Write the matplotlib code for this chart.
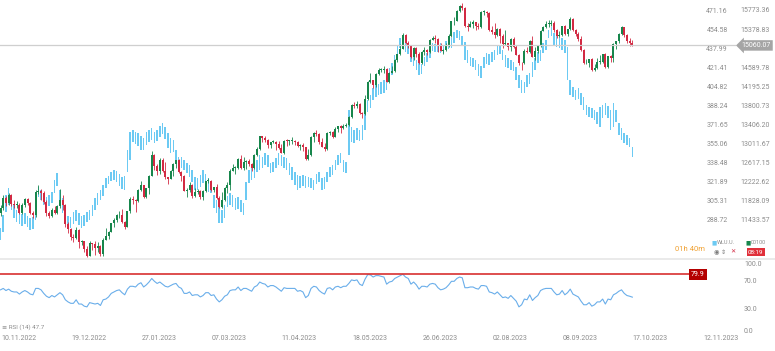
import matplotlib
matplotlib.use("Agg")
import matplotlib.pyplot as plt
import matplotlib.transforms as mtransforms
from matplotlib.lines import Line2D
import numpy as np

# index candles (scale on the far right: 15773.36 ...)
ndx_open = [
    11600, 11700, 11900, 11800, 11960, 11780, 11760, 11760, 11600, 11750,
    11870, 11790, 11600, 11540, 12030, 12050, 12010, 11820, 11580, 11520,
    11660, 11590, 11730, 11860, 11760, 11370, 11250, 11090, 11080, 11240,
    10990, 11000, 10840, 10700, 10960, 10940, 10860, 10910, 10740, 11040,
    11110, 11200, 11380, 11450, 11540, 11550, 11410, 11300, 11630, 11890,
    11860, 11840, 12060, 12170, 11920, 12100, 12360, 12800, 12570, 12450,
    12690, 12460, 12330, 12300, 12460, 12600, 12680, 12440, 12360, 12050,
    12060, 12160, 11950, 12020, 12040, 11930, 12040, 12250, 12250, 12070,
    12120, 11900, 11720, 11850, 12100, 12180, 12470, 12520, 12520, 12700,
    12520, 12640, 12670, 12600, 12530, 12790, 12910, 13180, 13150, 13110,
    12990, 13060, 13070, 13020, 12930, 12840, 13090, 13080, 13080, 13080,
    13070, 12980, 13000, 12960, 12700, 12800, 13160, 13250, 13230, 13060,
    12960, 12920, 13240, 13270, 13170, 13330, 13390, 13340, 13400, 13410,
    13570, 13820, 13810, 13850, 13670, 13630, 13960, 14300, 14340, 14250,
    14460, 14550, 14560, 14580, 14310, 14490, 14540, 14760, 14880, 14990,
    15280, 15120, 15040, 14820, 15000, 14890, 14690, 14930, 14960, 14920,
    15180, 15210, 15200, 15040, 14950, 14970, 15050, 15260, 15560, 15570,
    15780, 15870, 15840, 15470, 15450, 15510, 15540, 15470, 15450, 15750,
    15760, 15730, 15380, 15340, 15270, 15410, 15260, 15080, 15110, 15020,
    15200, 15030, 14870, 14700, 14690, 14950, 14930, 15160, 14830, 14940,
    15040, 15350, 15440, 15500, 15500, 15530, 15390, 15250, 15280, 15460,
    15290, 15400, 15610, 15380, 15300, 15190, 14960, 14690, 14700, 14770,
    14550, 14590, 14720, 14720, 14880, 14620, 14840, 14810, 15080, 15150,
    15300, 15440, 15280, 15150, 15120,
]
ndx_high = [
    11760, 11960, 11950, 12000, 11990, 11850, 11830, 11790, 11790, 11910,
    11900, 11810, 11640, 12060, 12160, 12080, 12040, 11850, 11630, 11700,
    11740, 11750, 12080, 11970, 11780, 11410, 11280, 11150, 11290, 11250,
    11040, 11010, 10900, 11000, 10970, 11020, 10980, 10920, 11070, 11270,
    11220, 11390, 11480, 11560, 11640, 11680, 11420, 11640, 11920, 11950,
    11870, 12080, 12250, 12180, 12110, 12380, 12880, 12820, 12610, 12730,
    12720, 12640, 12340, 12480, 12620, 12690, 12700, 12470, 12380, 12110,
    12240, 12190, 12110, 12090, 12060, 12060, 12260, 12320, 12270, 12130,
    12190, 11950, 12020, 12130, 12230, 12500, 12610, 12560, 12720, 12800,
    12750, 12680, 12700, 12620, 12810, 12960, 13190, 13180, 13190, 13130,
    13070, 13100, 13090, 13090, 13010, 13100, 13120, 13110, 13160, 13100,
    13090, 13020, 13030, 12960, 12920, 13180, 13260, 13300, 13250, 13150,
    13030, 13260, 13290, 13290, 13370, 13400, 13410, 13430, 13460, 13590,
    13840, 13880, 13900, 13860, 13690, 14040, 14320, 14480, 14340, 14480,
    14590, 14600, 14640, 14600, 14510, 14630, 14770, 14890, 15080, 15310,
    15300, 15150, 15070, 15020, 15030, 14920, 14950, 15020, 14980, 15200,
    15260, 15270, 15220, 15110, 14990, 15110, 15290, 15570, 15640, 15800,
    15900, 15930, 15860, 15520, 15570, 15580, 15540, 15520, 15770, 15800,
    15770, 15760, 15460, 15530, 15420, 15430, 15290, 15380, 15120, 15210,
    15230, 15060, 14890, 14720, 14980, 15020, 15180, 15260, 15020, 15060,
    15370, 15470, 15560, 15590, 15590, 15560, 15410, 15360, 15470, 15480,
    15410, 15640, 15620, 15400, 15330, 15250, 14980, 14780, 14780, 14790,
    14670, 14790, 14860, 14890, 14900, 14850, 14860, 15110, 15160, 15310,
    15460, 15450, 15300, 15210, 15170,
]
ndx_low = [
    11520, 11660, 11740, 11760, 11730, 11700, 11690, 11560, 11570, 11720,
    11760, 11570, 11490, 11510, 11990, 11860, 11770, 11530, 11480, 11500,
    11570, 11560, 11700, 11660, 11310, 11170, 11040, 10990, 11050, 10860,
    10920, 10790, 10680, 10690, 10820, 10710, 10790, 10700, 10700, 11030,
    11050, 11190, 11290, 11400, 11490, 11390, 11260, 11290, 11600, 11780,
    11610, 11820, 12040, 11910, 11900, 11980, 12360, 12490, 12380, 12400,
    12440, 12300, 12190, 12290, 12360, 12520, 12420, 12260, 12040, 11930,
    12030, 11900, 11920, 11990, 11890, 11850, 12020, 12220, 12050, 12030,
    11880, 11690, 11700, 11830, 12010, 12070, 12460, 12400, 12500, 12510,
    12490, 12510, 12570, 12470, 12510, 12780, 12890, 13050, 13070, 12940,
    12930, 13030, 12900, 12910, 12830, 12820, 12980, 12990, 13020, 12990,
    12950, 12900, 12870, 12690, 12680, 12780, 13070, 13190, 13010, 12950,
    12880, 12900, 13200, 13150, 13170, 13270, 13250, 13320, 13380, 13390,
    13560, 13760, 13770, 13650, 13560, 13610, 13940, 14280, 14180, 14200,
    14440, 14500, 14490, 14300, 14290, 14480, 14520, 14720, 14870, 14980,
    15080, 15000, 14790, 14760, 14820, 14680, 14670, 14860, 14860, 14900,
    15170, 15110, 14920, 14940, 14880, 14940, 15030, 15240, 15480, 15560,
    15760, 15790, 15440, 15360, 15440, 15420, 15390, 15410, 15430, 15700,
    15640, 15360, 15290, 15220, 15250, 15120, 15010, 15070, 14960, 14940,
    15010, 14860, 14660, 14560, 14670, 14900, 14900, 14820, 14760, 14910,
    15030, 15350, 15420, 15440, 15470, 15330, 15220, 15230, 15260, 15270,
    15260, 15390, 15360, 15250, 15160, 14950, 14680, 14680, 14610, 14530,
    14530, 14570, 14680, 14700, 14600, 14590, 14720, 14710, 14980, 15120,
    15280, 15240, 15110, 15050, 15040,
]
ndx_close = [
    11700, 11900, 11800, 11960, 11780, 11760, 11760, 11600, 11750, 11870,
    11790, 11600, 11540, 12030, 12050, 12010, 11820, 11580, 11520, 11660,
    11590, 11730, 11860, 11760, 11370, 11250, 11090, 11080, 11240, 10990,
    11000, 10840, 10700, 10960, 10940, 10860, 10910, 10740, 11040, 11110,
    11200, 11380, 11450, 11540, 11550, 11410, 11300, 11630, 11890, 11860,
    11840, 12060, 12170, 11920, 12100, 12360, 12800, 12570, 12450, 12690,
    12460, 12330, 12300, 12460, 12600, 12680, 12440, 12360, 12050, 12060,
    12160, 11950, 12020, 12040, 11930, 12040, 12250, 12250, 12070, 12120,
    11900, 11720, 11850, 12100, 12180, 12470, 12520, 12520, 12700, 12520,
    12640, 12670, 12600, 12530, 12790, 12910, 13180, 13150, 13110, 12990,
    13060, 13070, 13020, 12930, 12840, 13090, 13080, 13080, 13080, 13070,
    12980, 13000, 12960, 12700, 12800, 13160, 13250, 13230, 13060, 12960,
    12920, 13240, 13270, 13170, 13330, 13390, 13340, 13400, 13410, 13570,
    13820, 13810, 13850, 13670, 13630, 13960, 14300, 14340, 14250, 14460,
    14550, 14560, 14580, 14310, 14490, 14540, 14760, 14880, 14990, 15280,
    15120, 15040, 14820, 15000, 14890, 14690, 14930, 14960, 14920, 15180,
    15210, 15200, 15040, 14950, 14970, 15050, 15260, 15560, 15570, 15780,
    15870, 15840, 15470, 15450, 15510, 15540, 15470, 15450, 15750, 15760,
    15730, 15380, 15340, 15270, 15410, 15260, 15080, 15110, 15020, 15200,
    15030, 14870, 14700, 14690, 14950, 14930, 15160, 14830, 14940, 15040,
    15350, 15440, 15500, 15500, 15530, 15390, 15250, 15280, 15460, 15290,
    15400, 15610, 15380, 15300, 15190, 14960, 14690, 14700, 14770, 14550,
    14590, 14720, 14720, 14880, 14620, 14840, 14810, 15080, 15150, 15300,
    15440, 15280, 15150, 15120, 15060.07,
]

# second instrument, light blue bars (scale 471.16 ...)
blue_high = [
    282.2, 293.6, 311.0, 317.1, 311.0, 302.3, 297.9, 296.2, 294.4, 295.3,
    292.7, 290.9, 291.8, 302.3, 317.9, 315.3, 311.0, 309.2, 311.0, 313.6,
    324.0, 330.1, 315.3, 308.4, 297.9, 292.7, 291.8, 296.2, 297.9, 295.3,
    292.7, 293.6, 296.2, 297.9, 302.3, 308.4, 312.7, 315.3, 319.7, 325.8,
    327.5, 331.0, 332.7, 331.9, 329.3, 326.6, 327.5, 350.2, 365.8, 367.6,
    365.8, 365.0, 362.3, 360.6, 365.8, 367.6, 369.3, 365.8, 367.6, 371.1,
    373.7, 370.2, 365.0, 360.6, 358.9, 350.2, 344.1, 344.1, 341.4, 338.8,
    337.1, 332.7, 326.6, 325.8, 328.4, 332.7, 329.3, 325.8, 323.2, 311.0,
    306.6, 300.5, 297.9, 302.3, 310.1, 312.7, 311.0, 308.4, 309.2, 306.6,
    304.0, 322.3, 332.7, 335.4, 337.1, 341.4, 345.8, 344.1, 347.5, 345.8,
    338.8, 339.7, 343.2, 347.5, 345.8, 344.1, 343.2, 338.8, 335.4, 331.0,
    328.4, 327.5, 328.4, 327.5, 326.6, 325.8, 324.0, 329.3, 331.0, 325.8,
    326.6, 331.0, 335.4, 337.1, 341.4, 345.8, 347.5, 341.4, 339.7, 385.0,
    370.2, 367.6, 369.3, 367.6, 371.9, 385.0, 393.7, 398.0, 404.1, 406.7,
    407.6, 409.4, 411.1, 412.8, 421.5, 425.9, 432.8, 441.6, 447.7, 448.5,
    444.2, 442.4, 435.5, 432.8, 428.5, 425.9, 425.0, 431.1, 434.6, 438.9,
    443.3, 442.4, 444.2, 443.3, 441.6, 445.0, 445.9, 447.7, 452.9, 454.6,
    453.7, 449.4, 444.2, 437.2, 431.1, 430.2, 428.5, 425.0, 423.3, 431.1,
    434.6, 433.7, 435.5, 437.2, 440.7, 441.6, 437.2, 432.8, 430.2, 428.5,
    426.8, 422.4, 415.4, 411.1, 409.4, 415.4, 417.2, 426.8, 430.2, 435.5,
    437.2, 443.3, 445.9, 454.6, 457.2, 452.0, 450.3, 448.5, 447.7, 445.9,
    439.8, 411.1, 405.0, 402.4, 404.1, 399.8, 396.3, 389.3, 387.6, 386.7,
    385.0, 383.2, 387.6, 389.3, 391.1, 388.5, 385.0, 391.1, 385.0, 373.7,
    369.3, 365.0, 363.2, 360.6, 352.8,
]
blue_low = [
    271.8, 278.8, 296.2, 302.3, 297.9, 290.9, 287.5, 285.7, 284.0, 285.7,
    283.1, 280.5, 281.4, 289.2, 309.2, 306.6, 302.3, 300.5, 301.4, 304.0,
    312.7, 318.8, 302.3, 295.3, 287.5, 283.1, 282.2, 285.7, 288.3, 284.9,
    282.2, 284.0, 287.5, 289.2, 292.7, 297.9, 302.3, 306.6, 310.1, 317.1,
    320.6, 323.2, 324.0, 322.3, 318.8, 316.2, 315.3, 331.0, 341.4, 357.1,
    355.4, 353.6, 350.2, 350.2, 354.5, 357.1, 358.9, 356.2, 358.0, 361.5,
    364.1, 359.7, 351.9, 347.5, 348.4, 339.7, 335.4, 334.5, 332.7, 330.1,
    326.6, 322.3, 315.3, 315.3, 317.9, 321.4, 318.8, 313.6, 312.7, 299.7,
    295.3, 286.6, 286.6, 290.9, 300.5, 302.3, 300.5, 297.9, 298.8, 296.2,
    293.6, 306.6, 321.4, 324.0, 325.8, 331.0, 332.7, 334.5, 337.1, 335.4,
    330.1, 331.0, 334.5, 337.1, 336.2, 334.5, 332.7, 328.4, 324.0, 319.7,
    315.3, 317.1, 318.8, 317.1, 317.9, 317.1, 315.3, 320.6, 322.3, 315.3,
    316.2, 322.3, 326.6, 328.4, 332.7, 337.1, 338.8, 331.0, 330.1, 345.8,
    357.1, 356.2, 358.9, 358.0, 358.9, 367.6, 383.2, 386.7, 393.7, 396.3,
    398.0, 398.9, 399.8, 402.4, 411.1, 415.4, 421.5, 431.1, 438.9, 440.7,
    435.5, 433.7, 426.8, 423.3, 419.8, 415.4, 416.3, 423.3, 426.8, 430.2,
    436.3, 435.5, 435.5, 434.6, 434.6, 437.2, 438.1, 438.9, 443.3, 447.7,
    445.9, 440.7, 428.5, 425.9, 423.3, 422.4, 419.8, 414.6, 412.8, 421.5,
    425.0, 424.2, 426.8, 428.5, 432.8, 433.7, 428.5, 422.4, 421.5, 419.8,
    418.9, 411.1, 404.1, 399.8, 399.8, 405.0, 407.6, 413.7, 419.8, 425.9,
    427.6, 434.6, 437.2, 447.7, 449.4, 441.6, 439.8, 438.9, 437.2, 434.6,
    411.1, 398.0, 396.3, 393.7, 394.5, 389.3, 385.0, 380.6, 378.9, 378.0,
    376.3, 372.8, 370.2, 378.0, 380.6, 378.0, 367.6, 370.2, 374.5, 363.2,
    358.9, 356.2, 354.5, 352.8, 344.1,
]

rsi = [
    58, 60, 57, 59, 56, 55, 55, 52, 55, 57,
    55, 52, 51, 60, 60, 58, 53, 49, 47, 50,
    48, 51, 54, 51, 44, 41, 39, 39, 44, 38,
    38, 35, 34, 40, 39, 38, 39, 36, 44, 45,
    48, 53, 55, 57, 58, 54, 51, 59, 63, 63,
    62, 66, 68, 62, 65, 69, 74, 70, 67, 69,
    66, 63, 62, 64, 66, 67, 62, 60, 53, 53,
    55, 50, 51, 51, 48, 50, 54, 54, 50, 51,
    45, 41, 44, 49, 51, 57, 58, 58, 62, 57,
    60, 60, 58, 56, 62, 64, 69, 67, 66, 62,
    64, 64, 62, 59, 56, 61, 60, 60, 60, 60,
    56, 57, 55, 47, 50, 60, 63, 62, 57, 54,
    52, 60, 61, 58, 62, 63, 61, 63, 63, 67,
    72, 71, 72, 66, 64, 73, 79.5, 79, 76, 78,
    78, 77, 76, 66, 69, 70, 74, 76, 78, 79.9,
    76, 74, 66, 69, 65, 59, 63, 63, 62, 66,
    67, 66, 61, 58, 59, 61, 65, 70, 70, 74,
    76, 75, 61, 61, 62, 62, 60, 59, 64, 64,
    63, 55, 54, 52, 55, 51, 47, 48, 46, 50,
    46, 42, 34, 37, 45, 44, 51, 43, 47, 50,
    57, 59, 60, 60, 60, 55, 51, 52, 57, 51,
    54, 59, 52, 50, 48, 42, 37, 37, 40, 35,
    37, 41, 41, 45, 38, 45, 44, 51, 53, 56,
    58, 53, 50, 49, 47.7,
]

dates = ["10.11.2022", "19.12.2022", "27.01.2023", "07.03.2023", "11.04.2023",
         "18.05.2023", "26.06.2023", "02.08.2023", "08.09.2023", "17.10.2023",
         "12.11.2023"]
blue_ticks = [471.16, 454.58, 437.99, 421.41, 404.82, 388.24, 371.65, 355.06,
              338.48, 321.89, 305.31, 288.72]
ndx_ticks = [15773.36, 15378.83, 14589.78, 14195.25, 13800.73, 13406.20,
             13011.67, 12617.15, 12222.62, 11828.09, 11433.57]
rsi_ticks = [100.0, 70.0, 30.0, 0.0]
last_price = 15060.07

assert len(ndx_open) == len(ndx_close) == len(ndx_high) == len(ndx_low) \
    == len(blue_high) == len(blue_low) == len(rsi)

GREEN = "#17864c"
RED = "#d22a43"
BLUE = "#6ccaf3"
GREY_TXT = "#8c8c8c"

W, H = 775, 351
plt.rcParams['font.family'] = ['Roboto', 'DejaVu Sans']
fig = plt.figure(figsize=(W / 100, H / 100), dpi=100)


def rect(top, bottom):
    return [0, 1 - bottom / H, 1, (bottom - top) / H]


X0 = -0.2
X1 = X0 + W / 2.7   # 2.7 px per bar
idx = np.arange(len(ndx_close))

# main pane: blue bars underneath, candles on top
ax_b = fig.add_axes(rect(0, 258))
ax_b.set_xlim(X0, X1)
ax_b.set_ylim(256.12, 480.74)
ax_b.axis('off')
ax = ax_b.twinx()
ax.set_xlim(X0, X1)
ax.set_ylim(10658, 16001)
ax.axis('off')

lo = np.array(blue_low)
hi = np.array(blue_high)
ax_b.bar(idx, hi - lo, bottom=lo, width=0.55, color=BLUE, linewidth=0)

o = np.array(ndx_open)
c = np.array(ndx_close)
cols = np.where(c >= o, GREEN, RED)
ax.vlines(idx, ndx_low, ndx_high, colors=cols, lw=0.6)
body = np.maximum(np.abs(c - o), 15)
ax.bar(idx, body, bottom=np.minimum(o, c), width=0.72, color=cols, linewidth=0)

ax.axhline(last_price, xmin=0, xmax=735 / W, color="#cfcfcf", lw=0.9)

# price scales on the right
tr_n = mtransforms.blended_transform_factory(fig.transFigure, ax.transData)
tr_b = mtransforms.blended_transform_factory(fig.transFigure, ax_b.transData)
for v in blue_ticks:
    ax_b.text(728 / W, v, f"{v:.2f}", transform=tr_b, ha='right', va='center',
              fontsize=5, color=GREY_TXT)
for v in ndx_ticks:
    ax.text(770 / W, v, f"{v:.2f}", transform=tr_n, ha='right', va='center',
            fontsize=5, color=GREY_TXT)
ax.text(771 / W, last_price, f"{last_price:.2f}", transform=tr_n, ha='right',
        va='center', fontsize=5, color='white',
        bbox=dict(boxstyle='larrow,pad=0.25', fc='#a5a5a5', ec='none'))

# small legend block bottom-right of main pane
fig.text(675 / W, 1 - 249 / H, "01h 40m", fontsize=5.5, color="#f0a030",
         va='center')
fig.text(712 / W, 1 - 243 / H, "■", fontsize=4, color=BLUE, va='center')
fig.text(717 / W, 1 - 243 / H, "WLU.U.", fontsize=4, color=GREY_TXT, va='center')
fig.text(746 / W, 1 - 243 / H, "■", fontsize=4, color=GREEN, va='center')
fig.text(751 / W, 1 - 243 / H, "00100", fontsize=4, color=GREY_TXT, va='center')
fig.text(714 / W, 1 - 252 / H, "◉ ⇕", fontsize=4.5, color="#777777", va='center')
fig.text(730 / W, 1 - 252 / H, "✕", fontsize=4.5, color=RED, va='center')
fig.text(748 / W, 1 - 252 / H, "08:19", fontsize=4.5, color='white', va='center',
         bbox=dict(boxstyle='square,pad=0.2', fc='#e0303a', ec='none'))

fig.add_artist(Line2D([0, 1], [1 - 259 / H] * 2, color="#e6e6e6", lw=1.2))

# RSI pane
ax_r = fig.add_axes(rect(262, 334))
ax_r.set_xlim(X0, X1)
ax_r.set_ylim(-4.2, 97.2)
ax_r.axis('off')
ax_r.plot(idx, rsi, color="#6aaeea", lw=0.8)
rmax = max(rsi)
ax_r.axhline(rmax, xmin=0, xmax=690 / W, color="#d83030", lw=1.2)
tr_r = mtransforms.blended_transform_factory(fig.transFigure, ax_r.transData)
ax_r.text(698 / W, rmax, f"{rmax:.1f}", transform=tr_r, ha='center', va='center',
          fontsize=5, color='white',
          bbox=dict(boxstyle='square,pad=0.3', fc='#b40000', ec='none'))
for v in rsi_ticks:
    ax_r.text(744 / W, min(v, 94.0), f"{v:.1f}", transform=tr_r, ha='left',
              va='center', fontsize=5, color=GREY_TXT)
fig.text(2 / W, 1 - 327 / H, f"≡ RSI (14) {rsi[-1]:.1f}", fontsize=4.5,
         color=GREY_TXT, va='center')

# date axis, labels start at their bar
tr_d = mtransforms.blended_transform_factory(ax_r.transData, fig.transFigure)
for k, d in enumerate(dates):
    ax_r.text(k * 26 + 0.2, 1 - 338 / H, d, transform=tr_d, ha='left',
              va='center', fontsize=5, color=GREY_TXT)

fig.savefig("out.png", dpi=100)
